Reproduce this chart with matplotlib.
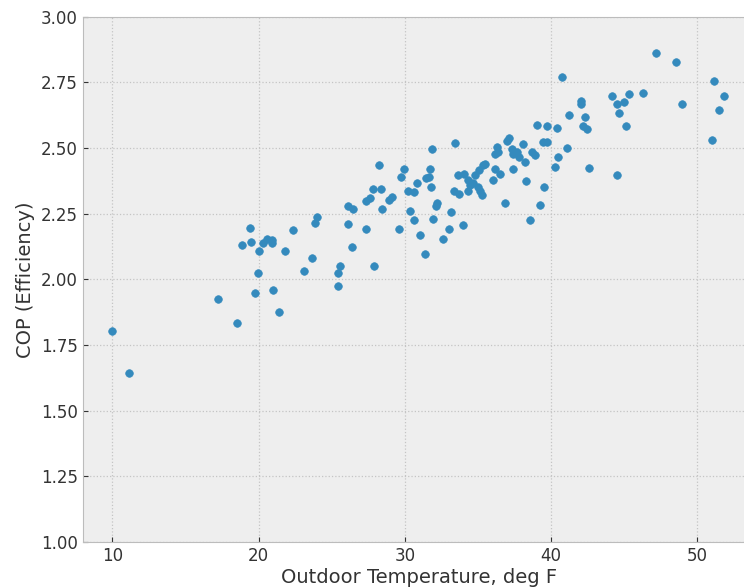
import matplotlib
matplotlib.use("Agg")
import matplotlib.pyplot as plt

# Valores (temperatura exterior vs COP)
temp_f = [
    10.0, 11.14, 17.23, 18.55, 19.73, 21.0, 21.4,
    24.0, 23.84, 19.42, 18.89, 19.5, 20.05, 20.28, 20.56, 20.9, 20.94,
    22.36, 21.81, 23.65, 23.13, 19.96,
    25.41, 25.41, 25.59, 26.1, 26.1, 26.48, 26.39, 27.37, 27.37, 27.6,
    27.8, 28.37, 28.24, 27.92, 28.46, 28.94, 29.1, 29.58, 29.74, 29.97,
    30.2, 30.6, 30.81, 30.36, 30.63, 31.04, 31.38, 31.45, 31.68, 31.72,
    31.77, 31.88, 32.11, 32.22, 31.93, 32.63, 33.04, 33.18, 33.41, 33.36,
    33.68, 34.0, 33.64, 34.05,
    34.3, 34.46, 34.68, 34.34, 34.8, 34.98, 35.14, 35.26, 35.07, 35.33, 35.5,
    36.05, 36.2, 36.5, 36.17, 36.35, 36.28, 36.87, 36.97, 37.15, 37.42,
    37.31, 37.42, 37.65, 37.81, 38.1, 38.22, 38.27, 38.54, 38.67, 38.88,
    39.06, 39.7, 39.43, 39.7, 39.22, 39.52,
    40.39, 40.77, 41.2, 41.11, 40.48, 40.27, 42.07, 42.07, 42.34, 42.2,
    42.44, 42.62, 44.19, 44.5, 44.99, 45.31, 44.63, 45.15, 44.53, 46.26,
    47.2, 48.52, 48.97, 51.12, 51.83, 51.46, 51.03,
]
cop = [
    1.802, 1.645, 1.926, 1.832, 1.949, 1.960, 1.876,
    2.236, 2.214, 2.195, 2.132, 2.141, 2.109, 2.137, 2.153, 2.150, 2.138,
    2.188, 2.108, 2.083, 2.031, 2.024,
    1.973, 2.025, 2.050, 2.211, 2.278, 2.269, 2.123, 2.193, 2.298, 2.309,
    2.344, 2.343, 2.436, 2.050, 2.269, 2.304, 2.315, 2.193, 2.390, 2.422,
    2.338, 2.334, 2.367, 2.260, 2.227, 2.170, 2.098, 2.385, 2.390, 2.422,
    2.352, 2.497, 2.279, 2.289, 2.231, 2.155, 2.193, 2.258, 2.518, 2.335,
    2.326, 2.206, 2.396, 2.400,
    2.377, 2.358, 2.365, 2.336, 2.396, 2.352, 2.336, 2.320, 2.415, 2.434, 2.441,
    2.380, 2.422, 2.403, 2.476, 2.484, 2.504, 2.291, 2.527, 2.539, 2.419,
    2.498, 2.476, 2.485, 2.466, 2.517, 2.445, 2.376, 2.225, 2.485, 2.473,
    2.588, 2.583, 2.524, 2.522, 2.283, 2.353,
    2.578, 2.769, 2.624, 2.500, 2.466, 2.428, 2.678, 2.666, 2.619, 2.585,
    2.574, 2.424, 2.698, 2.666, 2.676, 2.705, 2.632, 2.582, 2.397, 2.708,
    2.860, 2.826, 2.666, 2.755, 2.699, 2.644, 2.530,
]
y_ticks = [1.00, 1.25, 1.50, 1.75, 2.00, 2.25, 2.50, 2.75, 3.00]
x_ticks = [10, 20, 30, 40, 50]

plt.style.use('bmh')

fig = plt.figure(figsize=(7.44, 5.87), dpi=100)
# El eje se sale por la derecha, como en la imagen original recortada
ax = fig.add_axes([82.7 / 744, 45 / 587, 673 / 744, 525.3 / 587])
ax.scatter(temp_f, cop, s=30, color='#348ABD', zorder=3)

ax.set_xlim(7.97, 54.0)
ax.set_ylim(1.0, 3.0)
ax.set_xticks(x_ticks)
ax.set_yticks(y_ticks)
ax.set_yticklabels([f'{v:.2f}' for v in y_ticks])
ax.tick_params(labelsize=12, colors='#333333', labelcolor='#333333')
ax.grid(True, color='#c4c4c4', linestyle=':', linewidth=0.9)

ax.set_xlabel('Outdoor Temperature, deg F', fontsize=14, color='#333333', labelpad=2)
ax.set_ylabel('COP (Efficiency)', fontsize=14, color='#333333')

plt.savefig('out.png', dpi=100)
